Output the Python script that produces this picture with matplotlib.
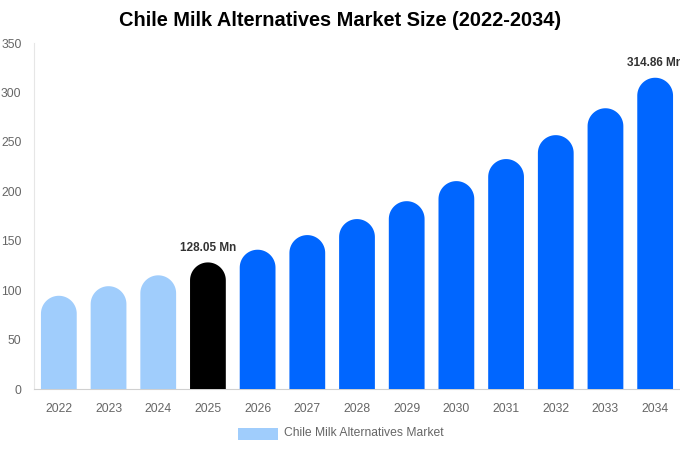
import numpy as np
import matplotlib
matplotlib.use("Agg")
from matplotlib import pyplot as plt
from matplotlib.path import Path
from matplotlib.patches import PathPatch, Rectangle

plt.rcParams['font.family'] = ['Liberation Sans', 'DejaVu Sans']

anos = ['2022', '2023', '2024', '2025', '2026', '2027', '2028',
        '2029', '2030', '2031', '2032', '2033', '2034']
valores = [94.3, 104.0, 115.0, 128.05, 140.9, 155.7, 171.9,
           190.0, 210.3, 232.6, 256.8, 284.0, 314.86]
cores = ['#a0cdfc'] * 3 + ['#000000'] + ['#0066ff'] * 9
rotulos = {3: '128.05 Mn', 12: '314.86 Mn'}
titulo = 'Chile Milk Alternatives Market Size (2022-2034)'
legenda = 'Chile Milk Alternatives Market'

fig = plt.figure(figsize=(6.8, 4.5), dpi=100)
ax = fig.add_axes([34 / 680, 61 / 450, 646 / 680, 346 / 450])
ax.set_xlim(-0.5, len(anos) - 0.5)
ax.set_ylim(0, 350)

largura = 0.72
# raio do topo arredondado em unidades de dados (x e y)
px_x = 646 / len(anos)
px_y = 346 / 350
rx = largura / 2
ry = rx * px_x / px_y


def barra_arredondada(x, h, cor):
    x0, x1 = x - rx, x + rx
    base = max(h - ry, 0)
    t = np.linspace(0, np.pi, 40)
    xs = list(x + rx * np.cos(t))
    ys = list(base + ry * np.sin(t))
    verts = [(x1, 0), (x1, base)] + list(zip(xs, ys)) + [(x0, base), (x0, 0), (x1, 0)]
    codes = [Path.MOVETO] + [Path.LINETO] * (len(verts) - 2) + [Path.CLOSEPOLY]
    return PathPatch(Path(verts, codes), facecolor=cor, edgecolor='none', zorder=3)


for i, (v, c) in enumerate(zip(valores, cores)):
    ax.add_patch(barra_arredondada(i, v, c))
    if i in rotulos:
        ax.text(i, v + 9, rotulos[i], ha='center', va='bottom', fontsize=8.5,
                fontweight='bold', color='#333333', clip_on=False)

ax.set_xticks(range(len(anos)))
ax.set_xticklabels(anos)
ax.set_yticks(range(0, 351, 50))
ax.tick_params(axis='both', length=0, labelsize=8.7, labelcolor='#666666')
ax.tick_params(axis='x', pad=10)
ax.tick_params(axis='y', pad=9)
for lado in ['top', 'right']:
    ax.spines[lado].set_visible(False)
ax.spines['left'].set_color('#e6e6e6')
ax.spines['bottom'].set_color('#d0d0d0')

fig.text(0.5, 1 - 21 / 450, titulo, ha='center', va='center', fontsize=14.4, fontweight='bold')

fig.patches.append(Rectangle((238 / 680, 1 - 440 / 450), 40 / 680, 12 / 450,
                             transform=fig.transFigure, facecolor='#a0cdfc',
                             edgecolor='none'))
fig.text(284 / 680, 1 - 433 / 450, legenda, ha='left', va='center',
         fontsize=8.7, color='#666666')

fig.savefig('out.png', dpi=100)
